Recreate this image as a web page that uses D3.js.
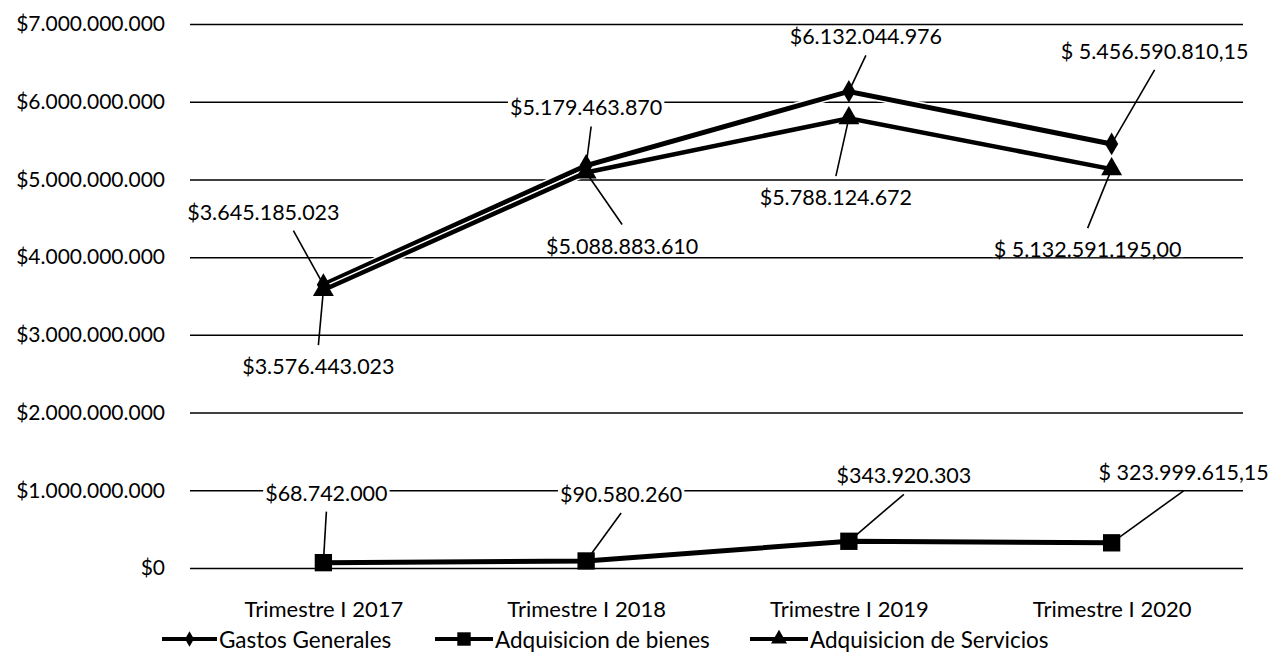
<!DOCTYPE html>
<html>
<head>
<meta charset="utf-8">
<script src="https://cdn.jsdelivr.net/npm/d3@7"></script>
<style>
  html, body { margin: 0; padding: 0; background: #fff; }
  svg { display: block; }
  text { font-family: Lato, "Open Sans", sans-serif; fill: #000; }
</style>
</head>
<body>
<svg id="chart" width="1270" height="652"></svg>
<script>
// ---- data ----
const categories = ["Trimestre I 2017", "Trimestre I 2018", "Trimestre I 2019", "Trimestre I 2020"];
const seriesNames = ["Gastos Generales", "Adquisicion de bienes", "Adquisicion de Servicios"];
const gastosGenerales = [3645185023, 5179463870, 6132044976, 5456590810.15];
const adquisicionBienes = [68742000, 90580260, 343920303, 323999615.15];
const adquisicionServicios = [3576443023, 5088883610, 5788124672, 5132591195.00];
const labelsGastos = ["$3.645.185.023", "$5.179.463.870", "$6.132.044.976", "$ 5.456.590.810,15"];
const labelsBienes = ["$68.742.000", "$90.580.260", "$343.920.303", "$ 323.999.615,15"];
const labelsServicios = ["$3.576.443.023", "$5.088.883.610", "$5.788.124.672", "$ 5.132.591.195,00"];
const yTicks = [0, 1e9, 2e9, 3e9, 4e9, 5e9, 6e9, 7e9];

// ---- layout ----
const svg = d3.select("#chart");
const plotLeft = 190, plotRight = 1243, plotTop = 24, plotBottom = 568;

const x = d3.scalePoint().domain(categories).range([192, 1243]).padding(0.5);
const y = d3.scaleLinear().domain([0, 7e9]).range([plotBottom, plotTop]);

const locale = d3.formatLocale({decimal: ",", thousands: ".", grouping: [3], currency: ["$", ""]});
const fmt = locale.format("$,");

// y axis + gridlines
const yAxis = d3.axisLeft(y)
  .tickValues(yTicks)
  .tickFormat(fmt)
  .tickSizeInner(-(plotRight - plotLeft))
  .tickSizeOuter(0)
  .tickPadding(25);

const gy = svg.append("g").attr("transform", `translate(${plotLeft},0)`).call(yAxis);
gy.select(".domain").remove();
gy.selectAll(".tick line").attr("stroke", "#000").attr("stroke-width", 1.5);
gy.selectAll(".tick text")
  .attr("font-family", "Lato, 'Open Sans', sans-serif")
  .attr("font-size", 21)
  .attr("fill", "#000");

// x category labels
const xAxis = d3.axisBottom(x).tickSize(0).tickPadding(0);
const gx = svg.append("g").attr("transform", `translate(0,${plotBottom + 40})`).call(xAxis);
gx.select(".domain").remove();
gx.selectAll(".tick text")
  .attr("font-family", "Lato, 'Open Sans', sans-serif")
  .attr("font-size", 22)
  .attr("fill", "#000")
  .attr("dy", "0")
  .attr("dominant-baseline", "central");

const series = [
  {name: seriesNames[0], values: gastosGenerales, labels: labelsGastos, marker: d3.symbolDiamond, msize: 150, width: 5,
   lab: [[-60, -73, 30], [0, -58, 5], [17, -55, 0], [43, -93, 0]], leg: 70},
  {name: seriesNames[1], values: adquisicionBienes, labels: labelsBienes, marker: d3.symbolSquare, msize: 300, width: 5,
   lab: [[3, -70, 0], [35, -67, 0], [55, -66, 0], [72, -71, 0]], leg: 180},
  {name: seriesNames[2], values: adquisicionServicios, labels: labelsServicios, marker: d3.symbolTriangle, msize: 190, width: 4.5,
   lab: [[-5, 76, 0], [36, 73, 0], [-13, 79, 0], [-24, 80, 0]], leg: 110}
];

const line = d3.line().x((d, i) => x(categories[i])).y(d => y(d));

// leader lines + labels
const leaderG = svg.append("g");
const labelG = svg.append("g");
series.forEach(s => {
  s.values.forEach((v, i) => {
    const px = x(categories[i]), py = y(v);
    const [dx, dy, lx] = s.lab[i];
    const cx = px + dx, cy = py + dy;
    const sy = dy < 0 ? cy + 19 : cy - 21;
    leaderG.append("line")
      .attr("x1", cx + lx).attr("y1", sy)
      .attr("x2", px).attr("y2", py)
      .attr("stroke", "#000").attr("stroke-width", 1.6);
    const t = labelG.append("text")
      .attr("x", cx).attr("y", cy)
      .attr("text-anchor", "middle")
      .attr("dominant-baseline", "central")
      .attr("font-size", 21.5)
      .text(s.labels[i]);
    const bb = t.node().getBBox();
    labelG.insert("rect", () => t.node())
      .attr("x", bb.x - 2).attr("y", cy - 10)
      .attr("width", bb.width + 4).attr("height", 18)
      .attr("fill", "#fff");
  });
});

// series lines with white casing
const linesG = svg.append("g");
series.forEach(s => {
  linesG.append("path").datum(s.values)
    .attr("d", line).attr("fill", "none")
    .attr("stroke", "#fff").attr("stroke-width", s.width + 3).attr("stroke-linejoin", "miter");
  linesG.append("path").datum(s.values)
    .attr("d", line).attr("fill", "none")
    .attr("stroke", "#000").attr("stroke-width", s.width).attr("stroke-linejoin", "miter");
});

// markers
const markG = svg.append("g");
series.forEach(s => {
  markG.selectAll(null).data(s.values).enter().append("path")
    .attr("transform", (d, i) => `translate(${x(categories[i])},${y(d)})`)
    .attr("d", d3.symbol().type(s.marker).size(s.msize))
    .attr("fill", "#000");
});

// legend
const legendY = 639;
const legendItems = [
  {x0: 162, x1: 217, tx: 219},
  {x0: 435, x1: 493, tx: 495},
  {x0: 750, x1: 808, tx: 810}
];
const legG = svg.append("g");
series.forEach((s, k) => {
  const L = legendItems[k];
  legG.append("line").attr("x1", L.x0).attr("x2", L.x1).attr("y1", legendY).attr("y2", legendY)
    .attr("stroke", "#000").attr("stroke-width", 4);
  legG.append("path")
    .attr("transform", `translate(${(L.x0 + L.x1) / 2},${legendY})`)
    .attr("d", d3.symbol().type(s.marker).size(s.leg))
    .attr("fill", "#000");
  legG.append("text").attr("x", L.tx).attr("y", legendY)
    .attr("dominant-baseline", "central")
    .attr("font-size", 22.5)
    .text(s.name);
});
</script>
</body>
</html>
